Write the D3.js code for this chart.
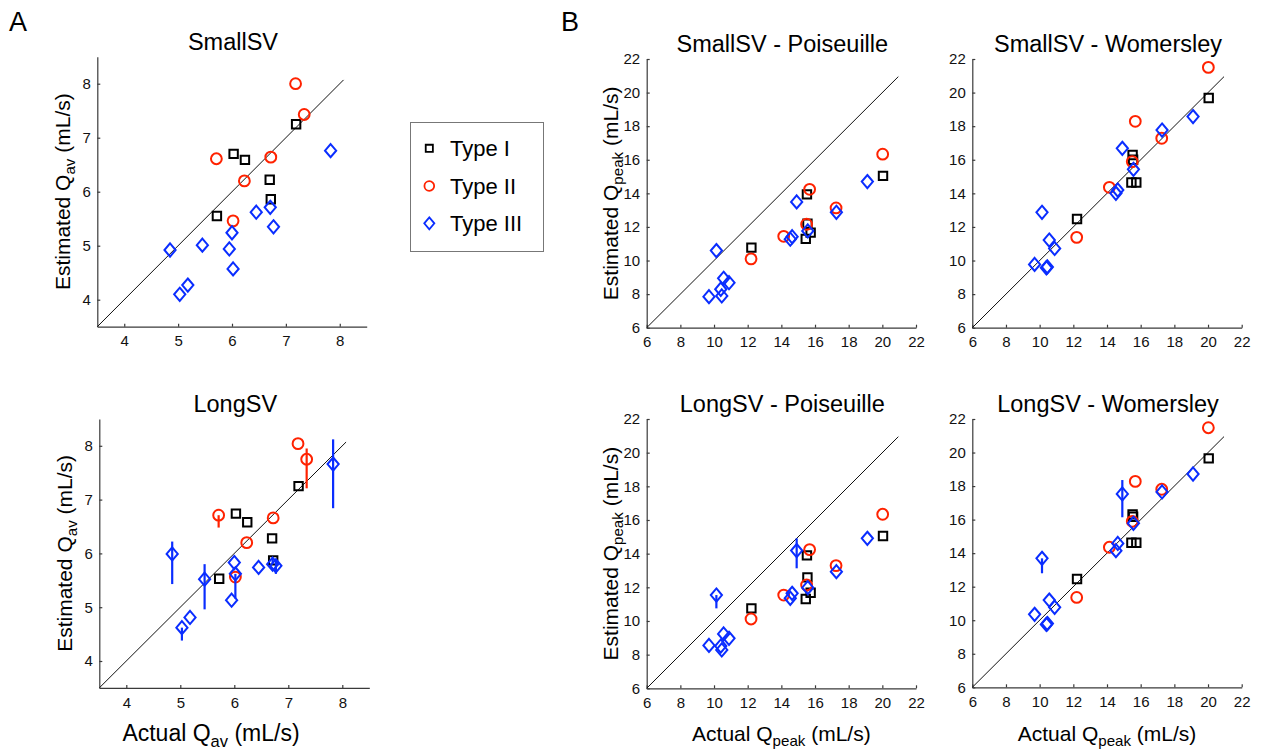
<!DOCTYPE html>
<html>
<head>
<meta charset="utf-8">
<script src="https://cdn.jsdelivr.net/npm/d3@7"></script>
<style>
  html, body { margin: 0; padding: 0; background: #fff; }
  svg { display: block; font-family: "Liberation Sans", Arial, Helvetica, sans-serif; }
</style>
</head>
<body>
<svg id="chart" width="1264" height="752"></svg>
<script>
// ---------------- DATA ----------------
const typeNames = ["Type I", "Type II", "Type III"];

// Panel A: average flow (mL/s)
const avActualI   = [7.19, 6.03, 6.24, 6.70, 6.72, 5.72];
const avSmallI    = [7.25, 6.70, 6.59, 6.22, 5.86, 5.55];
const avLongI     = [7.25, 6.74, 6.58, 6.28, 5.87, 5.53];

const avActualII  = [7.18, 7.34, 5.71, 6.72, 6.23, 6.02];
const avSmallII   = [8.00, 7.43, 6.61, 6.64, 6.20, 5.46];
const avLongII    = [8.04, 7.75, 6.71, 6.66, 6.20, 5.56];
const avLongIIErrLo = [0, 0.54, 0.23, 0, 0, 0];
const avLongIIErrHi = [0, 0.20, 0, 0, 0, 0];

const avActualIII = [7.83, 6.71, 6.45, 6.77, 6.00, 5.45, 4.85, 5.95, 6.02, 5.18, 5.03];
const avSmallIII  = [6.76, 5.71, 5.62, 5.35, 5.24, 5.01, 4.92, 4.94, 4.57, 4.27, 4.10];
const avLongIII   = [7.66, 5.80, 5.74, 5.77, 5.83, 5.52, 5.99, 5.13, 5.62, 4.81, 4.62];
const avLongIIIErrLo = [0.82, 0, 0, 0.15, 0, 0.56, 0.56, 0, 0.46, 0, 0.24];
const avLongIIIErrHi = [0.46, 0.12, 0, 0.10, 0, 0.28, 0.23, 0, 0, 0, 0];

// Panel B: peak flow (mL/s)
const pkActualI   = [20.04, 15.52, 12.22, 15.74, 15.45, 15.55];
const pkSmallPoisI = [15.04, 13.94, 10.77, 11.66, 11.29, 12.20];
const pkSmallWomI  = [19.68, 16.28, 12.47, 14.65, 14.65, 16.00];
const pkLongPoisI  = [15.05, 13.90, 10.75, 11.68, 11.31, 12.59];
const pkLongWomI   = [19.65, 16.31, 12.46, 14.62, 14.62, 16.17];

const pkActualII   = [20.02, 15.68, 14.14, 15.50, 17.25, 12.20];
const pkSmallPoisII = [16.33, 14.24, 11.44, 12.16, 13.13, 10.10];
const pkSmallWomII  = [21.50, 18.29, 14.36, 15.89, 17.28, 11.38];
const pkLongPoisII  = [16.34, 14.24, 11.54, 12.14, 13.29, 10.12];
const pkLongWomII   = [21.48, 18.28, 14.35, 15.90, 17.81, 11.36];

const pkActualIII   = [19.11, 17.27, 14.91, 15.57, 14.64, 14.53, 10.14, 10.57, 10.89, 10.40, 10.46, 9.70];
const pkSmallPoisIII = [14.70, 12.87, 13.49, 11.76, 11.42, 11.27, 10.59, 8.94, 8.68, 8.29, 7.89, 7.85];
const pkSmallWomIII  = [18.57, 17.77, 16.68, 15.43, 14.20, 14.00, 12.87, 11.22, 10.72, 9.57, 9.62, 9.77];
const pkLongPoisIII  = [14.91, 12.93, 14.18, 11.98, 11.64, 11.35, 11.54, 9.23, 8.97, 8.51, 8.28, 8.55];
const pkLongWomIII   = [18.72, 17.65, 17.53, 15.78, 14.58, 14.15, 13.69, 11.20, 10.77, 9.75, 9.80, 10.35];
const pkLongPoisIIIErrLo = [0, 0, 1.05, 0, 0, 0, 0.79, 0, 0, 0, 0, 0];
const pkLongPoisIIIErrHi = [0, 0, 0.73, 0, 0, 0, 0, 0, 0, 0, 0, 0];
const pkLongWomIIIErrLo  = [0, 0, 1.39, 0, 0, 0, 0.89, 0, 0, 0, 0, 0];
const pkLongWomIIIErrHi  = [0, 0, 0.83, 0, 0, 0, 0, 0, 0, 0, 0, 0];

// Axis ranges / ticks
const avDomain = [3.5, 8.5];
const avTicks = [4, 5, 6, 7, 8];
const avIdentity = [3.5, 8.07];
const pkDomain = [6, 22];
const pkTicks = [6, 8, 10, 12, 14, 16, 18, 20, 22];
const pkIdentity = [6, 20.95];

const titles = ["SmallSV", "LongSV", "SmallSV - Poiseuille", "SmallSV - Womersley", "LongSV - Poiseuille", "LongSV - Womersley"];

// ---------------- STYLE / LAYOUT ----------------
const colors = ["#000000", "#ff2200", "#0a2dff"];
const axisColor = "#3a3a3a";

const panels = [
  { title: titles[0], box: {l: 97.3, r: 366.7, b: 326.7, t: 56.7}, dom: avDomain, ticks: avTicks, ident: avIdentity,
    ylab: "av", xlab: null,
    series: [
      {x: avActualI, y: avSmallI}, {x: avActualII, y: avSmallII}, {x: avActualIII, y: avSmallIII}] },
  { title: titles[1], box: {l: 99.3, r: 369.3, b: 687.9, t: 418.9}, dom: avDomain, ticks: avTicks, ident: avIdentity,
    ylab: "av", xlab: "av", xlabPos: {cx: 211, size: 23},
    series: [
      {x: avActualI, y: avLongI},
      {x: avActualII, y: avLongII, lo: avLongIIErrLo, hi: avLongIIErrHi},
      {x: avActualIII, y: avLongIII, lo: avLongIIIErrLo, hi: avLongIIIErrHi}] },
  { title: titles[2], box: {l: 646.7, r: 916, b: 327.7, t: 59}, dom: pkDomain, ticks: pkTicks, ident: pkIdentity,
    ylab: "peak", xlab: null,
    series: [
      {x: pkActualI, y: pkSmallPoisI}, {x: pkActualII, y: pkSmallPoisII}, {x: pkActualIII, y: pkSmallPoisIII}] },
  { title: titles[3], box: {l: 972.3, r: 1241.7, b: 327.7, t: 59}, dom: pkDomain, ticks: pkTicks, ident: pkIdentity,
    ylab: null, xlab: null,
    series: [
      {x: pkActualI, y: pkSmallWomI}, {x: pkActualII, y: pkSmallWomII}, {x: pkActualIII, y: pkSmallWomIII}] },
  { title: titles[4], box: {l: 646.7, r: 916, b: 688.3, t: 419}, dom: pkDomain, ticks: pkTicks, ident: pkIdentity,
    ylab: "peak", xlab: "peak",
    series: [
      {x: pkActualI, y: pkLongPoisI}, {x: pkActualII, y: pkLongPoisII},
      {x: pkActualIII, y: pkLongPoisIII, lo: pkLongPoisIIIErrLo, hi: pkLongPoisIIIErrHi}] },
  { title: titles[5], box: {l: 972.3, r: 1241.7, b: 687.3, t: 419}, dom: pkDomain, ticks: pkTicks, ident: pkIdentity,
    ylab: null, xlab: "peak",
    series: [
      {x: pkActualI, y: pkLongWomI}, {x: pkActualII, y: pkLongWomII},
      {x: pkActualIII, y: pkLongWomIII, lo: pkLongWomIIIErrLo, hi: pkLongWomIIIErrHi}] }
];

const svg = d3.select("#chart");

function markerPath(type, cx, cy, k) {
  k = k || 1;
  if (type === 0) { const s = 4.2 * k; return `M${cx - s},${cy - s}H${cx + s}V${cy + s}H${cx - s}Z`; }
  if (type === 1) { const r = 5.4 * k; return `M${cx + r},${cy}A${r},${r} 0 1 1 ${cx - r},${cy}A${r},${r} 0 1 1 ${cx + r},${cy}Z`; }
  const w = 5.6 * k, h = 6.6 * k;
  return `M${cx},${cy - h}L${cx + w},${cy}L${cx},${cy + h}L${cx - w},${cy}Z`;
}

function addLabel(g, x, y, prefix, sub, suffix, rotate, size) {
  size = size || 21;
  const t = g.append("text")
    .attr("text-anchor", "middle")
    .attr("font-size", size)
    .attr("fill", "#000")
    .attr("transform", `translate(${x},${y})` + (rotate ? " rotate(-90)" : ""));
  t.append("tspan").text(prefix);
  t.append("tspan").attr("font-size", size * 0.72).attr("dy", size * 0.24).text(sub);
  t.append("tspan").attr("dy", -size * 0.24).text(suffix);
}

panels.forEach((p, pi) => {
  const x = d3.scaleLinear().domain(p.dom).range([p.box.l, p.box.r]);
  const y = d3.scaleLinear().domain(p.dom).range([p.box.b, p.box.t]);
  const g = svg.append("g");

  // axes
  const xa = g.append("g").attr("transform", `translate(0,${p.box.b})`)
    .call(d3.axisBottom(x).tickValues(p.ticks).tickFormat(d3.format("d"))
      .tickSizeInner(-3).tickSizeOuter(0).tickPadding(9));
  const ya = g.append("g").attr("transform", `translate(${p.box.l},0)`)
    .call(d3.axisLeft(y).tickValues(p.ticks).tickFormat(d3.format("d"))
      .tickSizeInner(-3).tickSizeOuter(0).tickPadding(6.5));
  [xa, ya].forEach(a => {
    a.select(".domain").attr("stroke", axisColor).attr("stroke-width", 1.2);
    a.selectAll(".tick line").attr("stroke", axisColor).attr("stroke-width", 1.2);
    a.selectAll(".tick text").attr("fill", "#111").attr("font-size", 15)
      .attr("font-family", '"Liberation Sans", Arial, sans-serif');
  });

  // identity line
  g.append("line")
    .attr("x1", x(p.ident[0])).attr("y1", y(p.ident[0]))
    .attr("x2", x(p.ident[1])).attr("y2", y(p.ident[1]))
    .attr("stroke", "#111").attr("stroke-width", 1);

  // series
  p.series.forEach((s, ti) => {
    const sg = g.append("g");
    const pts = s.x.map((xv, i) => ({x: xv, y: s.y[i], lo: s.lo ? s.lo[i] : 0, hi: s.hi ? s.hi[i] : 0}));
    sg.selectAll("line.err").data(pts.filter(d => d.lo > 0 || d.hi > 0)).join("line")
      .attr("class", "err")
      .attr("x1", d => x(d.x)).attr("x2", d => x(d.x))
      .attr("y1", d => y(d.y - d.lo)).attr("y2", d => y(d.y + d.hi))
      .attr("stroke", colors[ti]).attr("stroke-width", 2.2);
    sg.selectAll("path.mk").data(pts).join("path")
      .attr("class", "mk")
      .attr("d", d => markerPath(ti, x(d.x), y(d.y)))
      .attr("fill", "none")
      .attr("stroke", colors[ti])
      .attr("stroke-width", 2);
  });

  // title
  g.append("text").attr("x", (p.box.l + p.box.r) / 2 + 1).attr("y", p.box.t - 7)
    .attr("text-anchor", "middle").attr("font-size", 23.5).attr("fill", "#000").text(p.title);

  // labels
  if (p.ylab) {
    const lx = p.ylab === "av" ? p.box.l - 27 : p.box.l - 29;
    addLabel(g, lx, (p.box.t + p.box.b) / 2, "Estimated Q", p.ylab, " (mL/s)", true, 21);
  }
  if (p.xlab) {
    const cx = p.xlabPos ? p.xlabPos.cx : (p.box.l + p.box.r) / 2;
    const sz = p.xlabPos ? p.xlabPos.size : 21;
    addLabel(g, cx, 741, "Actual Q", p.xlab, " (mL/s)", false, sz);
  }
});

// Panel letters
svg.append("text").attr("x", 9).attr("y", 31).attr("font-size", 27).text("A");
svg.append("text").attr("x", 561).attr("y", 31).attr("font-size", 27).text("B");

// Legend
const lg = svg.append("g");
lg.append("rect").attr("x", 410.5).attr("y", 122.5).attr("width", 133).attr("height", 129)
  .attr("fill", "#fff").attr("stroke", "#777").attr("stroke-width", 1);
const legendRows = [148.3, 186, 223.3];
typeNames.forEach((name, i) => {
  lg.append("path").attr("d", markerPath(i, 429.3, legendRows[i], i === 0 ? 0.85 : 0.9))
    .attr("fill", "none").attr("stroke", colors[i]).attr("stroke-width", 1.8);
  lg.append("text").attr("x", 450).attr("y", legendRows[i] + 7.5).attr("font-size", 22).attr("fill", "#000").text(name);
});
</script>
</body>
</html>
